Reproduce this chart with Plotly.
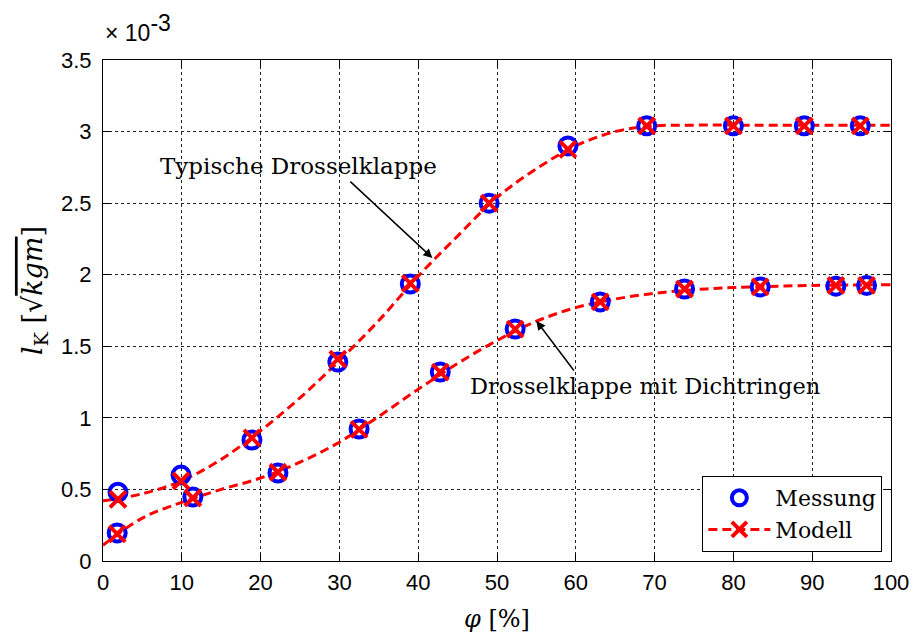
import plotly.graph_objects as go

# Öffnungswinkel [%] und gemessene / modellierte Werte (in 10^-3 sqrt(kgm))
phi_typ = [1.9, 9.9, 18.9, 29.8, 39, 49, 59, 69, 80, 89, 96.1]
mess_typ = [0.48, 0.60, 0.845, 1.39, 1.935, 2.50, 2.90, 3.04, 3.04, 3.04, 3.04]
modell_typ = [0.43, 0.56, 0.86, 1.41, 1.94, 2.50, 2.875, 3.04, 3.04, 3.04, 3.04]

phi_dicht = [1.8, 11.4, 22.2, 32.5, 42.8, 52.3, 63.1, 73.8, 83.4, 93, 96.9]
mess_dicht = [0.196, 0.447, 0.615, 0.922, 1.32, 1.62, 1.81, 1.90, 1.915, 1.92, 1.925]
modell_dicht = [0.19, 0.44, 0.62, 0.92, 1.32, 1.62, 1.81, 1.90, 1.915, 1.925, 1.925]

# Verlauf der Modellkurven
phi_kurve = [0, 5, 10, 15, 20, 25, 30, 35, 40, 45, 50, 55, 60, 65, 70, 75, 80, 90, 100]
kurve_typ = [0.42, 0.47, 0.56, 0.71, 0.91, 1.14, 1.40, 1.68, 1.99, 2.27, 2.54, 2.74,
             2.90, 3.00, 3.04, 3.045, 3.045, 3.045, 3.045]
kurve_dicht = [0.11, 0.30, 0.41, 0.50, 0.58, 0.69, 0.83, 1.01, 1.20, 1.38, 1.54, 1.675,
               1.77, 1.83, 1.87, 1.895, 1.91, 1.925, 1.93]

y_ticks = [0, 0.5, 1, 1.5, 2, 2.5, 3, 3.5]
y_labels = ["0", "0.5", "1", "1.5", "2", "2.5", "3", "3.5"]
x_ticks = list(range(0, 101, 10))

RED = "#ff0000"
BLUE = "#0000ff"
SANS = "Liberation Sans, Arial, sans-serif"
SERIF = "DejaVu Serif, Liberation Serif, serif"

fig = go.Figure()

for xs, ys in [(phi_kurve, kurve_typ), (phi_kurve, kurve_dicht)]:
    fig.add_trace(go.Scatter(
        x=xs, y=ys, mode="lines", showlegend=False, hoverinfo="skip",
        line=dict(color=RED, width=3, dash="9px,5px", shape="spline", smoothing=1.0),
    ))

for xs, ys in [(phi_typ, mess_typ), (phi_dicht, mess_dicht)]:
    fig.add_trace(go.Scatter(
        x=xs, y=ys, mode="markers", showlegend=False,
        marker=dict(symbol="circle-open", size=17, color=BLUE, line=dict(width=4, color=BLUE)),
    ))

for xs, ys in [(phi_typ, modell_typ), (phi_dicht, modell_dicht)]:
    fig.add_trace(go.Scatter(
        x=xs, y=ys, mode="markers", showlegend=False,
        marker=dict(symbol="x-thin", size=16, color=RED, line=dict(width=4, color=RED)),
    ))

# Legendeneinträge
fig.add_trace(go.Scatter(
    x=[None], y=[None], mode="markers", name="Messung",
    marker=dict(symbol="circle-open", size=15, color=BLUE, line=dict(width=4, color=BLUE)),
))
fig.add_trace(go.Scatter(
    x=[None], y=[None], mode="lines+markers", name="Modell",
    line=dict(color=RED, width=3, dash="9px,5px"),
    marker=dict(symbol="x-thin", size=15, color=RED, line=dict(width=4, color=RED)),
))

axis_common = dict(
    showline=True, linecolor="black", linewidth=1, mirror="ticks",
    ticks="inside", ticklen=7, tickcolor="black", tickwidth=1,
    showgrid=True, gridcolor="#222222", gridwidth=1, griddash="3px,3px",
    zeroline=False, automargin=False,
    tickfont=dict(family=SANS, size=22, color="black"),
)

fig.update_xaxes(
    range=[0, 100], tickvals=x_ticks, ticklabelstandoff=2, **axis_common,
    title=dict(text="<i>φ</i> [%]", font=dict(family=SERIF, size=24, color="black"), standoff=17),
)
fig.update_yaxes(
    range=[0, 3.5], tickvals=y_ticks, ticktext=y_labels, ticklabelstandoff=6, **axis_common,
)

# y-Achsenbeschriftung
fig.add_annotation(
    xref="paper", yref="paper", x=-0.0864, y=0.541, xanchor="center", yanchor="middle",
    textangle=-90, showarrow=False,
    text="<i>l</i><sub>K</sub> [√<span style='text-decoration:overline'><i>kgm</i></span>]",
    font=dict(family=SERIF, size=27, color="black"),
)

fig.add_annotation(
    xref="paper", yref="paper", x=0.0, y=1.0, yshift=12, xshift=0,
    xanchor="left", yanchor="bottom",
    text="× 10<sup><span style='font-size:23px'>-3</span></sup>", showarrow=False,
    font=dict(family=SANS, size=23, color="black"),
)

fig.add_annotation(
    x=41.8, y=2.117, ax=31.2, ay=2.66, axref="x", ayref="y",
    text="", showarrow=True, arrowhead=2, arrowsize=1.2, arrowwidth=1.5, arrowcolor="black",
)
fig.add_annotation(
    x=24.8, y=2.76, text="Typische Drosselklappe", showarrow=False,
    font=dict(family=SERIF, size=23, color="black"),
)

fig.add_annotation(
    x=55.0, y=1.677, ax=59.9, ay=1.32, axref="x", ayref="y",
    text="", showarrow=True, arrowhead=2, arrowsize=1.2, arrowwidth=1.5, arrowcolor="black",
)
fig.add_annotation(
    x=68.8, y=1.22, text="Drosselklappe mit Dichtringen", showarrow=False,
    font=dict(family=SERIF, size=22.5, color="black"),
)

fig.update_layout(
    width=913, height=633,
    margin=dict(l=103, r=22, t=60, b=72),
    paper_bgcolor="white", plot_bgcolor="white",
    legend=dict(
        x=0.7606, y=0.1697, xanchor="left", yanchor="top",
        bgcolor="white", bordercolor="black", borderwidth=1,
        font=dict(family=SERIF, size=22, color="black"),
        itemwidth=62, tracegroupgap=2,
    ),
    showlegend=True,
)

fig.write_html("out.html")
